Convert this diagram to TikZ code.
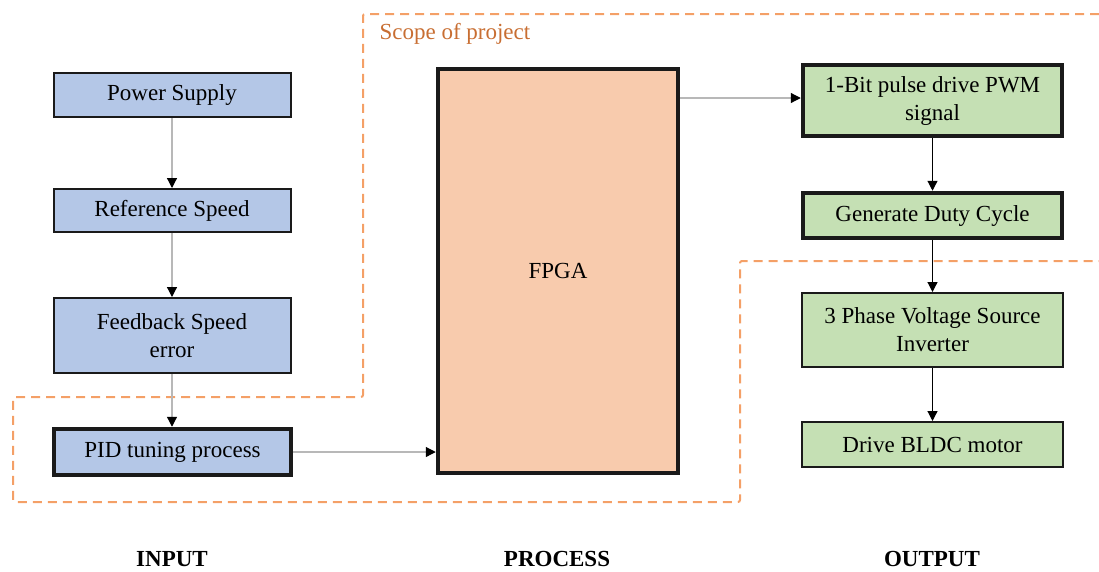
\documentclass[tikz,border=0pt]{standalone}
\usepackage{fontspec}
\setmainfont{Liberation Serif}
\usetikzlibrary{arrows.meta}
\definecolor{inblue}{HTML}{B4C7E7}
\definecolor{procorange}{HTML}{F8CBAD}
\definecolor{outgreen}{HTML}{C5E0B4}
\definecolor{scopeline}{HTML}{F4A067}
\definecolor{scopetext}{HTML}{C86E32}
\definecolor{linkgray}{HTML}{B8B8B8}
\definecolor{edge}{HTML}{1A1A1A}
\tikzset{
  txt/.style={font=\fontsize{23}{28}\selectfont},
  blk/.style={txt, draw=edge, line width=2pt, align=center, inner sep=0pt},
  thick blk/.style={blk, line width=4.5pt},
  inbox/.style={blk, fill=inblue, minimum width=237pt},
  outbox/.style={blk, fill=outgreen, minimum width=261pt},
  tip/.style={-{Triangle[length=10pt,width=10pt,color=black]}, line width=1.2pt},
  glink/.style={tip, draw=linkgray},
  blink/.style={tip, draw=black},
  scope/.style={draw=scopeline, line width=2pt, dash pattern=on 9pt off 6pt, rounded corners=2pt},
  heading/.style={txt, font=\fontsize{23}{28}\selectfont\bfseries}
}
\begin{document}
\begin{tikzpicture}[x=1pt,y=-1pt]
\useasboundingbox (0,0) rectangle (1099,571);

% scope of the project
\draw[scope] (1099,14) -- (363,14) -- (363,397) -- (13,397) -- (13,502)
  -- (740,502) -- (740,261) -- (1099,261);
\node[txt, text=scopetext, anchor=west] (scopelbl) at (376,34) {Scope of project};

% input column
\node[inbox, minimum height=44pt] (ps) at (172,95) {Power Supply};
\node[inbox, minimum height=43pt] (rs) at (172,210.5) {Reference Speed};
\node[inbox, minimum height=75pt] (fs) at (172,335.5) {Feedback Speed\\error};
\node[inbox, thick blk, fill=inblue, minimum width=237pt, minimum height=46pt] (pid) at (172.5,452) {PID tuning process};

% process
\node[thick blk, fill=procorange, minimum width=240pt, minimum height=404pt] (fpga) at (558,271) {FPGA};

% output column
\node[outbox, thick blk, fill=outgreen, minimum width=259pt, minimum height=71pt] (pwm) at (932.5,100.5) {1-Bit pulse drive PWM\\signal};
\node[outbox, thick blk, fill=outgreen, minimum width=259pt, minimum height=45pt] (duty) at (932.5,215.5) {Generate Duty Cycle};
\node[outbox, minimum height=74pt] (vsi) at (932.5,330) {3 Phase Voltage Source\\Inverter};
\node[outbox, minimum height=45pt] (bldc) at (932.5,444.5) {Drive BLDC motor};

% connectors
\draw[glink] (ps) -- (rs);
\draw[glink] (rs) -- (fs);
\draw[glink] (fs) -- (fs |- pid.north);
\draw[glink] (pid) -- (fpga.west |- pid);
\draw[glink] (fpga.east |- 0,98) -- (pwm.west |- 0,98);
\draw[blink] (pwm) -- (duty);
\draw[blink] (duty) -- (vsi);
\draw[blink] (vsi) -- (bldc);

% column headings
\node[heading] (hin) at (172,559) {INPUT};
\node[heading] (hproc) at (557,559) {PROCESS};
\node[heading] (hout) at (932,559) {OUTPUT};
\end{tikzpicture}
\end{document}
